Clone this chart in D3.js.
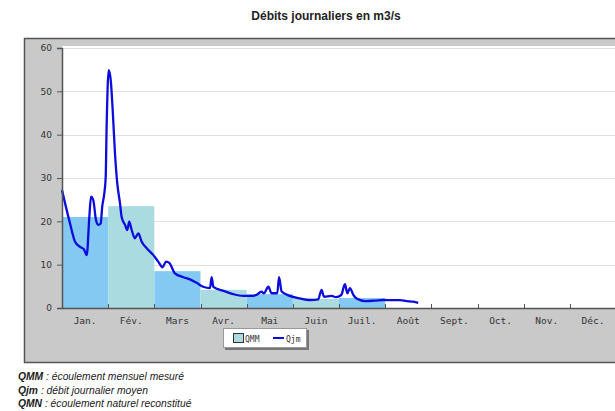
<!DOCTYPE html>
<html>
<head>
<meta charset="utf-8">
<script src="https://cdn.jsdelivr.net/npm/d3@7"></script>
<style>
  body { margin: 0; background: #fff; }
  svg { display: block; }
</style>
</head>
<body>
<div id="chart"></div>
<script>
// monthly labels and measured monthly flow (QMM)
const months = ['Jan.', 'Fév.', 'Mars', 'Avr.', 'Mai', 'Juin', 'Juil.', 'Août', 'Sept.', 'Oct.', 'Nov.', 'Déc.'];
const qmmValues = [21, 23.5, 8.5, 4.2, 3.2, 2.1, 2.3, null, null, null, null, null];

// daily mean flow (Qjm), day of year
const qjmDays = [0, 2, 5.3, 8.6, 11.9, 14.5, 16.3, 18, 19.1, 20.6, 22.4, 23.9, 25.5, 26.5, 27.9, 28.8, 29.4, 30.8, 32.1, 33.4, 34.9, 36.4,
  38.2, 39.3, 41.5, 43, 44.3, 45.9, 48, 50.3, 52.5, 55.8, 60.2, 63.4, 66.3, 68.5, 70.7, 74.4, 80, 84.3, 88.7, 93, 97.5, 98.6, 99.7,
  106, 112.8, 119.4, 126, 128, 131.5, 133, 136, 138, 141.8, 143, 144.7, 150, 156.8, 163.4, 168.8, 171, 172.6, 177.6, 180.5, 184,
  186.4, 188, 189.7, 192, 194, 200, 206, 211.7, 217, 222.7, 227, 231.5, 234.7];
const qjmValues = [27.2, 24.2, 19.5, 15.3, 14.1, 13.5, 12.2, 21, 25.7, 24.9, 20.3, 19.2, 19.5, 23.4, 26.5, 30.3, 41.8, 54.9, 52.6, 45.7, 35.7, 28.8,
  24.2, 21, 19.2, 18, 19.9, 18, 16.1, 17.2, 15.3, 13.8, 12.2, 10.7, 9.4, 10.7, 10.4, 8.0, 7.1, 6.6, 5.8, 4.9, 4.6, 7.1, 4.9,
  4.0, 3.2, 2.8, 2.8, 3.0, 3.8, 3.4, 4.9, 3.4, 3.4, 7.1, 3.8, 2.8, 2.2, 1.85, 2.0, 4.2, 2.6, 2.8, 2.5, 3.0,
  5.5, 3.4, 4.6, 3.0, 2.2, 1.6, 1.7, 1.85, 1.8, 1.8, 1.6, 1.45, 1.2];

const yTicks = [0, 10, 20, 30, 40, 50, 60];

const width = 615, height = 411;
const plot = {left: 62, top: 46, right: 616, bottom: 308};

const svg = d3.select('#chart').append('svg')
  .attr('width', width)
  .attr('height', height)
  .style('font-family', 'Liberation Sans, Arial, sans-serif');

svg.append('text')
  .attr('x', 326)
  .attr('y', 20)
  .attr('text-anchor', 'middle')
  .style('font-size', '12px')
  .style('font-weight', 'bold')
  .attr('fill', '#222')
  .text('Débits journaliers en m3/s');

// grey panel
svg.append('rect')
  .attr('x', 24.5).attr('y', 38.5)
  .attr('width', 640).attr('height', 324)
  .attr('fill', '#c9c9c9')
  .attr('stroke', '#555')
  .attr('stroke-width', 1.5);

svg.append('rect')
  .attr('x', plot.left).attr('y', plot.top)
  .attr('width', plot.right - plot.left).attr('height', plot.bottom - plot.top)
  .attr('fill', '#fff');

const x = d3.scaleBand()
  .domain(months)
  .range([plot.left, plot.right])
  .paddingInner(0).paddingOuter(0);

const xDay = d3.scaleLinear()
  .domain([0, 365])
  .range([plot.left, plot.right]);

const y = d3.scaleLinear()
  .domain([0, 60])
  .range([plot.bottom, 48]);

// gridlines
svg.append('g')
  .selectAll('line')
  .data(yTicks.filter(d => d > 0))
  .enter().append('line')
    .attr('x1', plot.left).attr('x2', plot.right)
    .attr('y1', d => Math.round(y(d)) + 0.5).attr('y2', d => Math.round(y(d)) + 0.5)
    .attr('stroke', '#e0e0e0');

// monthly bars
svg.append('g')
  .selectAll('rect')
  .data(months.map((m, i) => ({m, v: qmmValues[i], i})).filter(d => d.v != null))
  .enter().append('rect')
    .attr('x', d => x(d.m))
    .attr('y', d => y(d.v))
    .attr('width', x.bandwidth())
    .attr('height', d => y(0) - y(d.v))
    .attr('fill', d => d.i % 2 === 0 ? '#84c9f2' : '#aadbe0');

// daily line
const line = d3.line()
  .x((d, i) => xDay(qjmDays[i]))
  .y(d => y(d))
  .curve(d3.curveMonotoneX);

svg.append('path')
  .datum(qjmValues)
  .attr('d', line)
  .attr('fill', 'none')
  .attr('stroke', '#0c0cdc')
  .attr('stroke-width', 2.3)
  .attr('stroke-linejoin', 'round');

// y axis
const yAxis = svg.append('g')
  .attr('transform', 'translate(' + plot.left + ',0)')
  .call(d3.axisLeft(y).tickValues(yTicks).tickSize(5).tickPadding(5));
yAxis.select('.domain').attr('stroke', '#555').attr('stroke-width', 1.5);
yAxis.selectAll('.tick line').attr('stroke', '#555');
yAxis.selectAll('text')
  .style('font-family', 'DejaVu Sans, sans-serif')
  .style('font-size', '9px')
  .attr('fill', '#333');

// x axis
const xAxis = svg.append('g')
  .attr('transform', 'translate(0,' + plot.bottom + ')')
  .call(d3.axisBottom(x).tickSize(0).tickPadding(9));
xAxis.select('.domain').attr('stroke', '#555').attr('stroke-width', 1.5);
xAxis.selectAll('text')
  .style('font-family', 'DejaVu Sans Mono, monospace')
  .style('font-size', '9.5px')
  .attr('fill', '#333');

svg.append('g')
  .selectAll('line')
  .data(months.slice(1))
  .enter().append('line')
    .attr('x1', d => Math.round(x(d)) + 0.5).attr('x2', d => Math.round(x(d)) + 0.5)
    .attr('y1', plot.bottom - 4).attr('y2', plot.bottom)
    .attr('stroke', '#555');

// legend
const lg = svg.append('g').attr('transform', 'translate(223,328)');
lg.append('rect').attr('x', 2).attr('y', 2).attr('width', 84).attr('height', 20).attr('fill', '#777');
lg.append('rect').attr('x', 0.5).attr('y', 0.5).attr('width', 83).attr('height', 19)
  .attr('fill', '#fff').attr('stroke', '#999');
lg.append('rect').attr('x', 10.5).attr('y', 5.5).attr('width', 10).attr('height', 9)
  .attr('fill', '#aadbe0').attr('stroke', '#333');
lg.append('text').attr('x', 22).attr('y', 13.5)
  .style('font-family', 'DejaVu Sans Mono, monospace').style('font-size', '8px')
  .attr('fill', '#333').text('QMM');
lg.append('line').attr('x1', 50).attr('x2', 61).attr('y1', 10).attr('y2', 10)
  .attr('stroke', '#0c0cdc').attr('stroke-width', 2);
lg.append('text').attr('x', 63).attr('y', 13.5)
  .style('font-family', 'DejaVu Sans Mono, monospace').style('font-size', '8px')
  .attr('fill', '#333').text('Qjm');

// footnotes
const notes = [
  ['QMM', ' : écoulement mensuel mesuré'],
  ['Qjm', ' : débit journalier moyen'],
  ['QMN', ' : écoulement naturel reconstitué']
];
svg.append('g')
  .selectAll('text')
  .data(notes)
  .enter().append('text')
    .attr('x', 18)
    .attr('y', (d, i) => 380 + i * 13.5)
    .style('font-size', '10.3px')
    .style('font-style', 'italic')
    .attr('fill', '#222')
    .each(function(d) {
      d3.select(this).append('tspan').style('font-weight', 'bold').text(d[0]);
      d3.select(this).append('tspan').text(d[1]);
    });
</script>
</body>
</html>
